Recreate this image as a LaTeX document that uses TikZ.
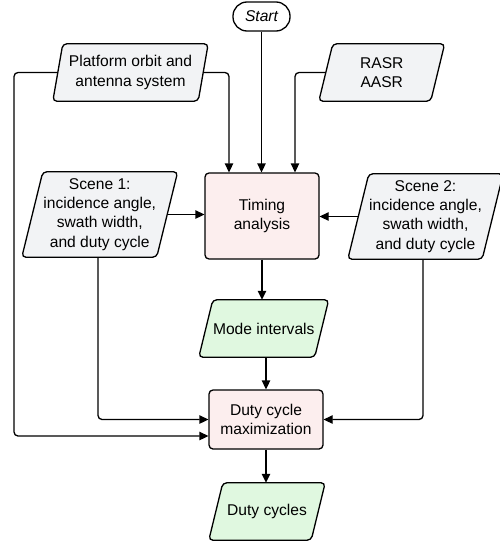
\documentclass[tikz,border=0pt]{standalone}
\usepackage{fontspec}
\setmainfont{Liberation Sans}
\usetikzlibrary{arrows.meta,backgrounds}

\definecolor{datagray}{RGB}{242,243,245}
\definecolor{procpink}{RGB}{252,238,238}
\definecolor{outgreen}{RGB}{224,248,224}

\tikzset{
  txt/.style={draw=none, align=center, inner sep=0pt, font=\fontsize{15.6}{19.2}\selectfont},
  procbox/.style={txt, draw, line width=1.3pt, fill=procpink, rounded corners=4pt},
  paraedge/.style={draw, line width=1.3pt, rounded corners=4pt},
  link/.style={line width=1.3pt, rounded corners=4pt, -{Triangle[length=9pt,width=8.5pt]}},
}

% parallelogram drawn around an anchor-only node: #1 name, #2 half slant, #3 fill
\newcommand{\paragram}[3]{%
  \begin{pgfonlayer}{background}
    \path[paraedge, fill=#3]
      ([xshift=#2]#1.north west) -- ([xshift=#2]#1.north east) --
      ([xshift=-#2]#1.south east) -- ([xshift=-#2]#1.south west) -- cycle;
  \end{pgfonlayer}}

\begin{document}
\begin{tikzpicture}[x=1pt,y=-1pt]
  \useasboundingbox (0,0) rectangle (500,541);

  % start terminator
  \node[txt, draw, line width=1.3pt, fill=white, rounded corners=14pt,
        minimum width=57pt, minimum height=29pt, font=\fontsize{15.6}{19.2}\selectfont\itshape]
        (start) at (261.5,16.5) {Start};

  % inputs
  \node[txt, minimum width=145pt, minimum height=57pt] (plat) at (130.5,72.5)
        {Platform orbit and\\antenna system};
  \paragram{plat}{5pt}{datagray}
  \node[txt, minimum width=111.5pt, minimum height=57pt] (rasr) at (381.75,72.5)
        {RASR\\AASR};
  \paragram{rasr}{7pt}{datagray}
  \node[txt, minimum width=134.5pt, minimum height=85pt] (scene1) at (99.75,214.5)
        {Scene 1:\\incidence angle,\\swath width,\\and duty cycle};
  \paragram{scene1}{10.5pt}{datagray}
  \node[txt, minimum width=134pt, minimum height=85pt] (scene2) at (425.5,216.5)
        {Scene 2:\\incidence angle,\\swath width,\\and duty cycle};
  \paragram{scene2}{10.5pt}{datagray}

  % processes
  \node[procbox, minimum width=114pt, minimum height=86pt] (timing) at (262,216)
        {Timing\\analysis};
  \node[procbox, minimum width=114pt, minimum height=59pt] (duty) at (266,419.5)
        {Duty cycle\\maximization};

  % outputs
  \node[txt, minimum width=115.5pt, minimum height=57pt] (mode) at (263.75,328.5)
        {Mode intervals};
  \paragram{mode}{7pt}{outgreen}
  \node[txt, minimum width=102pt, minimum height=57pt] (cycles) at (267,511.5)
        {Duty cycles};
  \paragram{cycles}{7pt}{outgreen}

  % connectors into timing analysis
  \draw[link] (start.south) -- (start.south |- timing.north);
  \draw[link] (plat.east) -| ([xshift=-33pt]timing.north);
  \draw[link] (rasr.west) -| ([xshift=33pt]timing.north);
  \draw[link] (scene1.east) -- (scene1.east -| timing.west);
  \draw[link] (scene2.west) -- (scene2.west -| timing.east);

  % timing analysis to mode intervals to duty cycle maximization
  \draw[link] (timing.south) -- (timing.south |- mode.north);
  \draw[link] (mode.south -| duty.north) -- (duty.north);
  \draw[link] (duty.south) -- (duty.south |- cycles.north);

  % side inputs into duty cycle maximization
  \coordinate (leftrail) at (14,0);
  \coordinate (dutylow) at ([yshift=-16.5pt]duty.west);
  \draw[link] (plat.west) -| (leftrail |- dutylow) -- (dutylow);
  \draw[link] ([xshift=-1.75pt]scene1.south) |- (duty.west);
  \draw[link] ([xshift=-2.5pt]scene2.south) |- (duty.east);
\end{tikzpicture}
\end{document}
